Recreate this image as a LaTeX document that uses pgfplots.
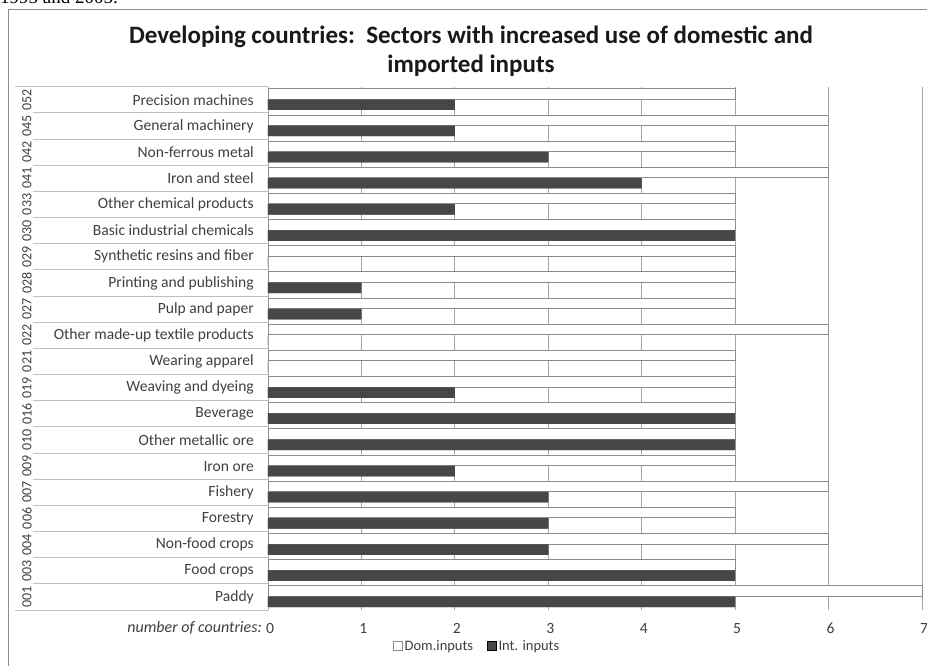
\documentclass[border=0pt]{standalone}
\usepackage{pgfplots}
\pgfplotsset{compat=1.18}
\usepackage{fontspec}
\setmainfont{Carlito}
\newfontfamily\timesfont{Liberation Serif}
\definecolor{framec}{HTML}{8C8C8C}
\definecolor{darkbar}{HTML}{5A5A5A}
\definecolor{gridc}{HTML}{A6A6A6}
\definecolor{sepc}{HTML}{BFBFBF}
\definecolor{txt}{HTML}{404040}
\begin{document}
\begin{tikzpicture}
% partial document text above the chart
\node[anchor=base west, inner sep=0pt, font=\timesfont\fontsize{19}{22}\selectfont] at (0pt,662pt) {1995 and 2005.};
% chart frame
\draw[framec, line width=1pt] (8pt,656pt) rectangle (960pt,-20pt);
% title
\node[anchor=base, inner sep=0pt, font=\bfseries\fontsize{25}{30}\selectfont, text=black!90] at (471pt,622pt) {Developing countries:\ \ Sectors with increased use of domestic and};
\node[anchor=base, inner sep=0pt, font=\bfseries\fontsize{25}{30}\selectfont, text=black!90] at (471pt,593pt) {imported inputs};
% label table separators
\draw[sepc, line width=0.8pt] (15pt,579.3pt) -- (268pt,579.3pt);
\draw[sepc, line width=0.8pt] (15pt,56pt) -- (268pt,56pt);
\foreach \k in {1,...,19} {
  \draw[sepc, line width=0.8pt] (33pt,{(56+\k*26.165)*1pt}) -- (268pt,{(56+\k*26.165)*1pt});
}
% sector codes (outer category level)
\foreach \c [count=\i from 0] in {001,003,004,006,007,009,010,016,019,021,022,027,028,029,030,033,041,042,045,052} {
  \node[rotate=90, inner sep=0pt, font=\fontsize{14}{16}\selectfont, text=txt] at (27pt,{(69.1+\i*26.165)*1pt}) {\c};
}
\node[anchor=base east, inner sep=0pt, font=\itshape\fontsize{16}{18}\selectfont, text=txt] at (262pt,33pt) {number of countries:};
\begin{axis}[
  at={(268pt,56pt)}, anchor=south west,
  scale only axis, width=654pt, height=523.3pt,
  xbar, bar width=0.4,
  xmin=0, xmax=7, ymin=-0.5, ymax=19.5,
  xtick={0,...,7},
  ytick={0,...,19},
  yticklabels={Paddy, Food crops, Non-food crops, Forestry, Fishery, Iron ore, Other metallic ore, Beverage, Weaving and dyeing, Wearing apparel, Other made-up textile products, Pulp and paper, Printing and publishing, Synthetic resins and fiber, Basic industrial chemicals, Other chemical products, Iron and steel, Non-ferrous metal, General machinery, Precision machines},
  major tick length=0pt,
  /pgf/number format/assume math mode=true,
  yticklabel style={anchor=east, inner sep=0pt, xshift=-14pt, font=\fontsize{15.6}{18}\selectfont, text=txt},
  xticklabel style={anchor=north, inner sep=0pt, yshift=-13pt, xshift=2pt, font=\fontsize{15.6}{18}\selectfont, text=txt},
  xmajorgrids, major grid style={gridc, line width=0.8pt},
  axis x line*=bottom, axis y line*=left,
  x axis line style={draw=none},
  y axis line style={gridc, line width=0.8pt, -},
  clip=false,
  area legend,
  legend columns=2,
  legend image code/.code={\draw[#1] (0pt,-4.5pt) rectangle (9pt,4.5pt);},
  legend style={at={(0.3196,-0.0688)}, anchor=center, draw=none, fill=none,
    font=\fontsize{14.5}{16}\selectfont, text=txt,
    /tikz/every even column/.append style={column sep=12pt},
    /tikz/every odd column/.append style={column sep=0pt},
    inner sep=0pt, nodes={inner sep=2pt}},
]
\addplot[fill=white, draw=framec, line width=0.9pt, bar shift=0.22] coordinates {
(7,0) (5,1) (6,2) (5,3) (6,4) (5,5) (5,6) (5,7) (5,8) (5,9)
(6,10) (5,11) (5,12) (5,13) (5,14) (5,15) (6,16) (5,17) (6,18) (5,19)
};
\addplot[draw=none, fill=darkbar, top color=black!72, middle color=black!58, bottom color=black!72, bar shift=-0.19] coordinates {
(5,0) (5,1) (3,2) (3,3) (3,4) (2,5) (5,6) (5,7) (2,8) (0,9)
(0,10) (1,11) (1,12) (0,13) (5,14) (2,15) (4,16) (3,17) (2,18) (2,19)
};
\legend{Dom.inputs, Int. inputs}
\end{axis}
\pgfresetboundingbox
\path[use as bounding box] (0pt,0pt) rectangle (927pt,666pt);
\end{tikzpicture}
\end{document}
